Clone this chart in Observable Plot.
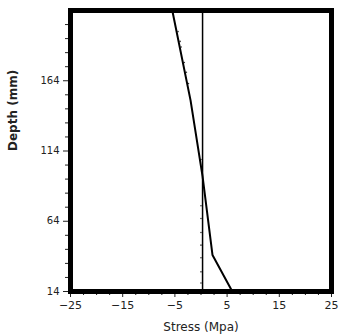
<!DOCTYPE html>
<html><head><meta charset="utf-8">
<script src="https://cdn.jsdelivr.net/npm/d3@7"></script>
<script src="https://cdn.jsdelivr.net/npm/@observablehq/plot@0.6"></script>
<style>body{margin:0;background:#fff}</style>
</head><body><div id="chart"></div>
<script>
const lineStress = [-5.5, -2.0, 0.3, 2.2, 6.0];
const lineDepth  = [214, 150, 96, 40, 14];
const refStress = [0.3, 0.3];
const refDepth  = [14, 214];
const dotStress = [-4.4, -4.0, -3.8, -3.2, -2.8, -2.4, 0.0, 0.2, 0, 0, 0, 0, 0, 0, 0];
const dotDepth  = [199, 192, 188, 177, 170, 162, 108, 99, 75, 66, 56, 47, 38, 28, 20];
const xTicks = [-25, -15, -5, 5, 15, 25];
const yTicks = [14, 64, 114, 164];

const line = lineStress.map((s, i) => ({s, d: lineDepth[i]}));
const ref = refStress.map((s, i) => ({s, d: refDepth[i]}));
const dots = dotStress.map((s, i) => ({s, d: dotDepth[i]}));
const minorX = d3.range(-25, 25.01, 2.5).filter(v => !xTicks.includes(v));
const minorY = d3.range(24, 214, 10).filter(v => !yTicks.includes(v));

const chart = Plot.plot({
  width: 345, height: 335,
  marginLeft: 70, marginRight: 14, marginTop: 10, marginBottom: 44,
  style: {fontFamily: "DejaVu Sans", fontSize: "11px", color: "#222", background: "#fff"},
  x: {domain: [-25, 25], axis: null},
  y: {domain: [14, 214], axis: null},
  marks: [
    Plot.axisX(minorX, {tickSize: 4, text: null, label: null}),
    Plot.axisX(xTicks, {tickSize: 6, tickPadding: 4, fontSize: 11, label: null}),
    Plot.axisY(minorY, {tickSize: 5, text: null, label: null}),
    Plot.axisY(yTicks, {tickSize: 7, tickPadding: 4, fontSize: 10, label: null}),
    Plot.text(["Stress (Mpa)"], {frameAnchor: "bottom", dy: 39, fontSize: 12, letterSpacing: 0.5}),
    Plot.text(["Depth (mm)"], {frameAnchor: "left", dx: -57, rotate: -90, fontSize: 12, fontWeight: "bold"}),
    Plot.line(ref, {x: "s", y: "d", stroke: "#000", strokeWidth: 1.5}),
    Plot.dot(dots, {x: "s", y: "d", r: 0.8, fill: "#333", stroke: null}),
    Plot.line(line, {x: "s", y: "d", stroke: "#000", strokeWidth: 2}),
    Plot.frame({stroke: "#000", strokeWidth: 5})
  ]
});
document.getElementById("chart").appendChild(chart);
</script>
</body></html>
